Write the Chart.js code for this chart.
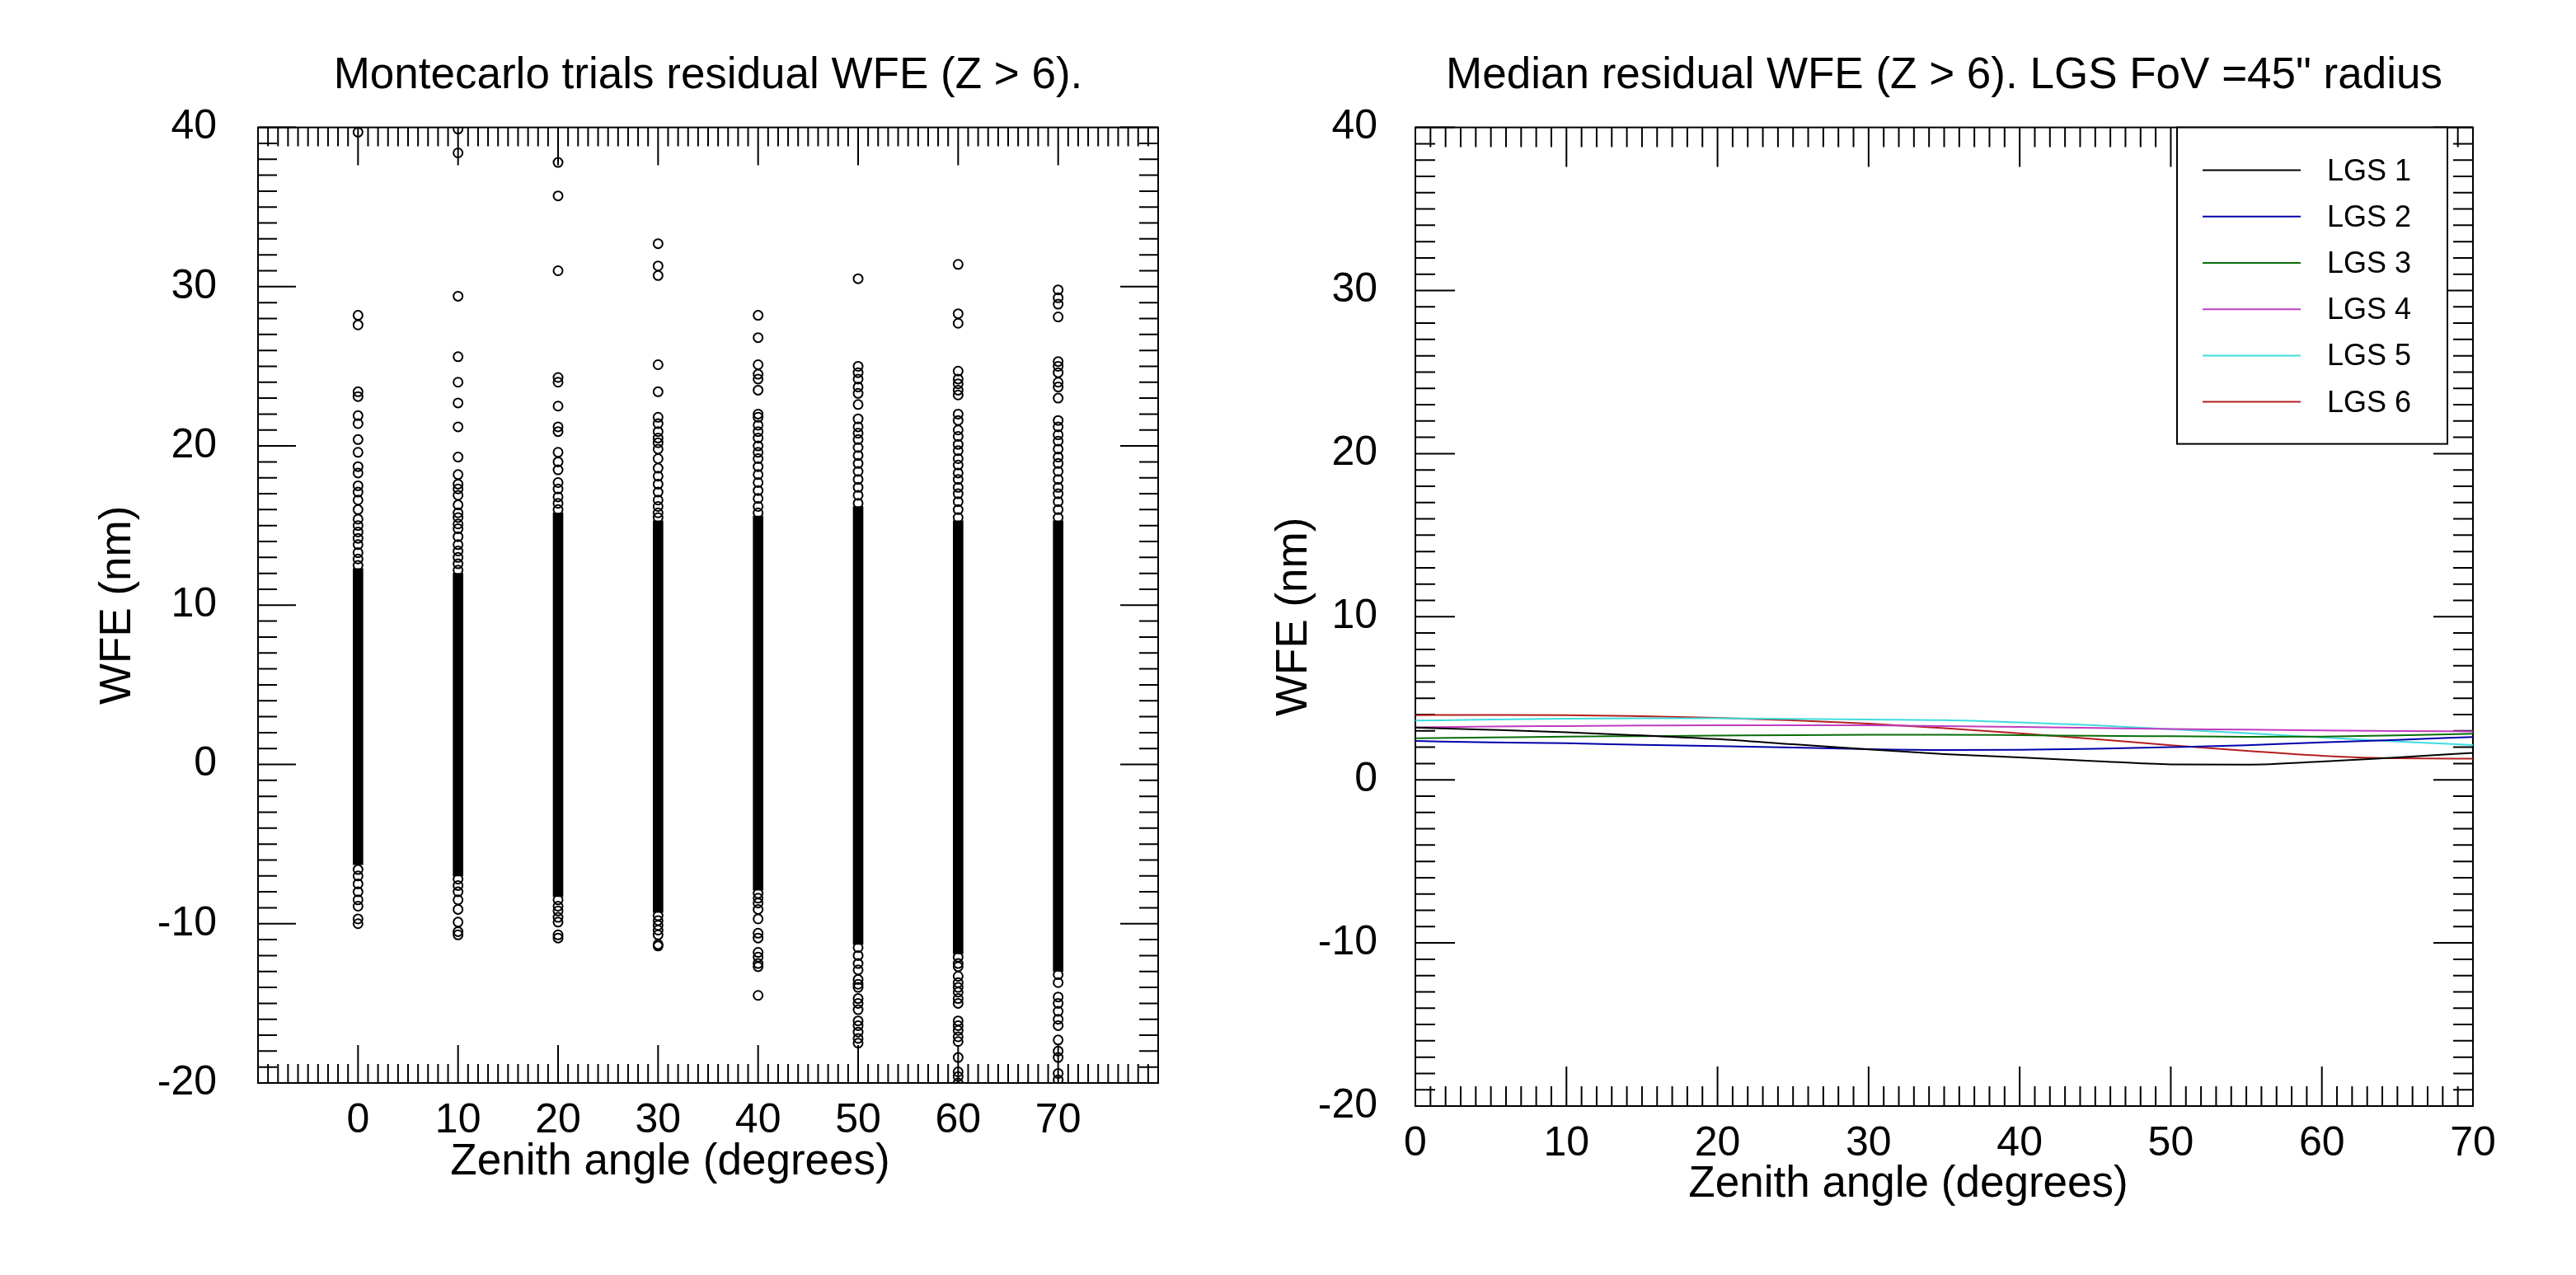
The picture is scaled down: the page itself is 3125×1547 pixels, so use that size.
<!DOCTYPE html>
<html>
<head>
<meta charset="utf-8">
<title>Residual WFE vs zenith angle</title>
<script src="https://cdn.jsdelivr.net/npm/chart.js@4.4.1/dist/chart.umd.min.js"></script>
<style>
  html, body { margin: 0; padding: 0; background: #fff; }
  #wrap { position: relative; width: 3125px; height: 1547px; overflow: hidden; }
  canvas { position: absolute; top: 0; }
  #montecarlo { left: 0; }
  #median { left: 1500px; }
</style>
</head>
<body>
<div id="wrap">
  <canvas id="montecarlo" width="1560" height="1547"></canvas>
  <canvas id="median" width="1625" height="1547"></canvas>
</div>
<script>
/* Left panel - Montecarlo trials */
const zenithAngles = [0, 10, 20, 30, 40, 50, 60, 70];
// solid part of each column (too many overlapping trials to tell apart)
const denseLow  = [-6.3, -7.0, -8.3, -9.3, -7.9, -11.3, -11.9, -13.0];
const denseHigh = [12.3, 12.0, 15.8, 15.3, 15.6, 16.2, 15.3, 15.3];
// single trials visible outside the solid part
const trials0  = [39.7, 28.2, 27.6, 23.4, 23.1, 21.9, 21.4, 20.4, 19.6, 18.7, 18.3, 17.5, 17.1, 16.6, 16.0, 15.4, 15.0, 14.6, 14.2, 13.8, 13.3, 12.9, 12.5,
                  -6.6, -7.0, -7.5, -8.0, -8.5, -8.9, -9.7, -10.0];
const trials10 = [39.9, 38.4, 29.4, 25.6, 24.0, 22.7, 21.2, 19.3, 18.2, 17.6, 17.3, 16.9, 16.3, 15.8, 15.5, 15.1, 14.8, 14.3, 13.8, 13.4, 13.0, 12.6, 12.2,
                  -7.2, -7.6, -8.0, -8.5, -9.1, -9.9, -10.5, -10.7];
const trials20 = [37.8, 35.7, 31.0, 24.3, 24.0, 22.5, 21.2, 20.9, 19.6, 19.0, 18.5, 17.7, 17.3, 16.8, 16.4, 16.0,
                  -8.5, -8.9, -9.2, -9.6, -9.9, -10.7, -10.9];
const trials30 = [32.7, 31.3, 30.7, 25.1, 23.4, 21.8, 21.4, 20.9, 20.5, 20.2, 19.8, 19.2, 18.6, 18.1, 17.6, 17.1, 16.6, 16.2, 15.8, 15.5,
                  -9.5, -9.8, -10.1, -10.4, -10.7, -11.3, -11.4];
const trials40 = [28.2, 26.8, 25.1, 24.5, 24.2, 23.5, 22.0, 21.8, 21.3, 20.9, 20.5, 20.0, 19.6, 19.2, 18.7, 18.2, 17.7, 17.2, 16.7, 16.2, 15.8,
                  -8.1, -8.4, -8.7, -9.1, -9.7, -10.6, -10.9, -11.8, -12.1, -12.5, -12.7, -14.5];
const trials50 = [30.5, 25.0, 24.6, 24.2, 23.7, 23.3, 22.6, 21.7, 21.2, 20.8, 20.4, 19.9, 19.4, 18.9, 18.4, 17.9, 17.4, 16.9, 16.4,
                  -11.5, -12.0, -12.5, -12.9, -13.5, -13.8, -14.0, -14.7, -15.0, -15.4, -16.1, -16.4, -16.8, -17.2, -17.5];
const trials60 = [31.4, 28.3, 27.7, 24.7, 24.2, 23.9, 23.5, 23.2, 22.0, 21.6, 21.0, 20.6, 20.1, 19.7, 19.2, 18.8, 18.3, 17.9, 17.4, 17.0, 16.5, 16.0, 15.5,
                  -12.1, -12.5, -12.7, -13.3, -13.7, -14.0, -14.3, -14.7, -15.0, -16.1, -16.4, -16.7, -17.1, -17.4, -18.4, -19.3, -19.6, -20.0];
const trials70 = [29.8, 29.3, 28.9, 28.1, 25.3, 25.0, 24.6, 24.0, 23.7, 23.0, 21.6, 21.2, 20.7, 20.3, 19.8, 19.3, 18.9, 18.4, 17.9, 17.4, 17.0, 16.5, 16.0, 15.5,
                  -13.2, -13.7, -14.6, -15.0, -15.5, -16.0, -16.4, -17.3, -18.0, -18.4, -19.4, -19.8];
const trialColumns = [trials0, trials10, trials20, trials30, trials40, trials50, trials60, trials70];

/* Right panel - median residual per LGS */
const medianAngles = [0, 5, 10, 15, 20, 25, 30, 35, 40, 45, 50, 55, 60, 65, 70];
const lgs1 = [3.20, 3.07, 2.92, 2.72, 2.50, 2.18, 1.87, 1.58, 1.37, 1.15, 0.95, 0.93, 1.12, 1.38, 1.65];
const lgs2 = [2.38, 2.30, 2.24, 2.15, 2.07, 1.98, 1.88, 1.83, 1.84, 1.90, 2.00, 2.12, 2.30, 2.45, 2.63];
const lgs3 = [2.55, 2.60, 2.65, 2.68, 2.71, 2.74, 2.76, 2.77, 2.74, 2.70, 2.67, 2.64, 2.65, 2.72, 2.83];
const lgs4 = [3.22, 3.27, 3.30, 3.33, 3.35, 3.35, 3.34, 3.30, 3.24, 3.18, 3.12, 3.08, 3.03, 2.99, 2.97];
const lgs5 = [3.63, 3.70, 3.75, 3.77, 3.77, 3.74, 3.70, 3.66, 3.52, 3.35, 3.10, 2.86, 2.60, 2.35, 2.13];
const lgs6 = [3.97, 3.98, 3.97, 3.90, 3.80, 3.65, 3.45, 3.17, 2.85, 2.50, 2.12, 1.78, 1.48, 1.32, 1.30];
const lgsLabels = ['LGS 1', 'LGS 2', 'LGS 3', 'LGS 4', 'LGS 5', 'LGS 6'];
const lgsColors = ['#000000', '#0000a8', '#0a6e0a', '#c03cc0', '#40dcdc', '#b41e1e'];

/* axis labels */
const angleTicks = [0, 10, 20, 30, 40, 50, 60, 70];
const wfeTicks = [-20, -10, 0, 10, 20, 30, 40];

const FONT = "'Liberation Sans', Arial, Helvetica, sans-serif";
Chart.defaults.font.family = FONT;
Chart.defaults.color = '#000';

// frame around the plot with inward ticks on all four sides
const frameTicks = {
    id: 'frameTicks',
    beforeDatasetsDraw(chart, args, opts) {
        const {ctx, chartArea: a, scales: {x, y}} = chart;
        ctx.save();
        ctx.strokeStyle = '#000';
        ctx.lineWidth = 2;
        ctx.beginPath();
        for (let v = Math.ceil(x.min); v <= x.max; v++) {
            const px = x.getPixelForValue(v);
            const len = v % opts.major === 0 ? opts.majorLen : opts.minorLen;
            ctx.moveTo(px, a.top); ctx.lineTo(px, a.top + len);
            ctx.moveTo(px, a.bottom); ctx.lineTo(px, a.bottom - len);
        }
        for (let v = Math.ceil(y.min); v <= y.max; v++) {
            const py = y.getPixelForValue(v);
            const len = v % opts.major === 0 ? opts.majorLen : opts.minorLen;
            ctx.moveTo(a.left, py); ctx.lineTo(a.left + len, py);
            ctx.moveTo(a.right, py); ctx.lineTo(a.right - len, py);
        }
        ctx.stroke();
        ctx.strokeRect(a.left, a.top, a.right - a.left, a.bottom - a.top);
        ctx.restore();
    }
};

// x axis title, sits a bit left of the plot centre like in the original
const axisCaption = {
    id: 'axisCaption',
    afterDraw(chart, args, opts) {
        const {ctx} = chart;
        ctx.save();
        ctx.font = `${opts.size}px ${FONT}`;
        ctx.fillStyle = '#000';
        ctx.textAlign = 'center';
        ctx.textBaseline = 'middle';
        ctx.fillText(opts.text, opts.cx, opts.cy);
        ctx.restore();
    }
};

// boxed legend in the upper right corner of the plot
const boxLegend = {
    id: 'boxLegend',
    afterDraw(chart, args, opts) {
        const {ctx, chartArea: a} = chart;
        const left = a.right - opts.inset - opts.width;
        const top = a.top;
        ctx.save();
        ctx.fillStyle = '#fff';
        ctx.fillRect(left, top, opts.width, opts.height);
        ctx.strokeStyle = '#000';
        ctx.lineWidth = 2;
        ctx.strokeRect(left, top, opts.width, opts.height);
        ctx.font = `${opts.size}px ${FONT}`;
        ctx.textBaseline = 'middle';
        ctx.textAlign = 'left';
        chart.data.datasets.forEach((ds, i) => {
            const ly = top + opts.firstRow + i * opts.rowStep;
            ctx.strokeStyle = ds.borderColor;
            ctx.beginPath();
            ctx.moveTo(left + opts.lineStart, ly);
            ctx.lineTo(left + opts.lineStart + opts.lineLen, ly);
            ctx.stroke();
            ctx.fillStyle = '#000';
            ctx.fillText(ds.label, left + opts.textStart, ly + 2);
        });
        ctx.restore();
    }
};

const tickFont = {family: FONT, size: 50};
const titleFont = {family: FONT, size: 53, weight: 'normal'};

function fixedTicks(values) {
    return (scale) => { scale.ticks = values.map(v => ({value: v})); };
}

/* Chart 1 */
const trialPoints = [];
zenithAngles.forEach((angle, i) => {
    trialColumns[i].forEach(v => trialPoints.push({x: angle, y: v}));
});

new Chart(document.getElementById('montecarlo'), {
    type: 'scatter',
    data: {
        datasets: [{
            type: 'bar',
            data: zenithAngles.map((angle, i) => ({x: angle, y: [denseLow[i], denseHigh[i]]})),
            backgroundColor: '#000',
            borderWidth: 0,
            barThickness: 12,
            clip: 0
        }, {
            data: trialPoints,
            pointStyle: 'circle',
            pointRadius: 5.5,
            borderWidth: 2,
            borderColor: '#000',
            backgroundColor: 'rgba(0,0,0,0)',
            clip: 0
        }]
    },
    options: {
        responsive: false,
        animation: false,
        events: [],
        layout: {padding: {left: 0, right: 155, top: 0, bottom: 0}},
        plugins: {
            legend: {display: false},
            tooltip: {enabled: false},
            title: {
                display: true,
                text: 'Montecarlo trials residual WFE (Z > 6).',
                font: titleFont,
                color: '#000',
                fullSize: false,
                padding: {top: 61, bottom: 30}
            },
            frameTicks: {major: 10, minorLen: 23, majorLen: 46},
            axisCaption: {text: 'Zenith angle (degrees)', size: 53, cx: 813, cy: 1410}
        },
        scales: {
            x: {
                type: 'linear',
                min: -10,
                max: 80,
                offset: false,
                grid: {display: false, offset: false},
                border: {display: false},
                afterBuildTicks: fixedTicks(angleTicks),
                afterFit: (scale) => { scale.height = 233; },
                ticks: {font: tickFont, color: '#000', padding: 8, maxRotation: 0, autoSkip: false}
            },
            y: {
                type: 'linear',
                min: -20,
                max: 40,
                grid: {display: false},
                border: {display: false},
                afterBuildTicks: fixedTicks(wfeTicks),
                afterFit: (scale) => { scale.width = 313; },
                ticks: {font: tickFont, color: '#000', padding: 42},
                title: {display: true, text: 'WFE (nm)', font: titleFont, color: '#000', padding: {top: 112, bottom: 0}}
            }
        }
    },
    plugins: [frameTicks, axisCaption]
});

/* Chart 2 */
const lgsSeries = [lgs1, lgs2, lgs3, lgs4, lgs5, lgs6];

new Chart(document.getElementById('median'), {
    type: 'line',
    data: {
        labels: medianAngles,
        datasets: lgsSeries.map((series, i) => ({
            label: lgsLabels[i],
            data: series.map((v, j) => ({x: medianAngles[j], y: v})),
            borderColor: lgsColors[i],
            borderWidth: 2,
            pointRadius: 0,
            fill: false,
            cubicInterpolationMode: 'monotone',
            clip: 0
        }))
    },
    options: {
        responsive: false,
        animation: false,
        events: [],
        layout: {padding: {left: 0, right: 125, top: 0, bottom: 0}},
        plugins: {
            legend: {display: false},
            tooltip: {enabled: false},
            title: {
                display: true,
                text: 'Median residual WFE (Z > 6). LGS FoV =45" radius',
                font: titleFont,
                color: '#000',
                fullSize: false,
                padding: {top: 61, bottom: 30}
            },
            frameTicks: {major: 10, minorLen: 24, majorLen: 48},
            axisCaption: {text: 'Zenith angle (degrees)', size: 53, cx: 815, cy: 1437},
            boxLegend: {
                inset: 31, width: 328, height: 384,
                lineStart: 31, lineLen: 119, textStart: 182,
                firstRow: 52, rowStep: 56.2, size: 36
            }
        },
        scales: {
            x: {
                type: 'linear',
                min: 0,
                max: 70,
                grid: {display: false},
                border: {display: false},
                afterBuildTicks: fixedTicks(angleTicks),
                afterFit: (scale) => { scale.height = 205; },
                ticks: {font: tickFont, color: '#000', padding: 8, maxRotation: 0, autoSkip: false}
            },
            y: {
                type: 'linear',
                min: -20,
                max: 40,
                grid: {display: false},
                border: {display: false},
                afterBuildTicks: fixedTicks(wfeTicks),
                afterFit: (scale) => { scale.width = 217; },
                ticks: {font: tickFont, color: '#000', padding: 38},
                title: {display: true, text: 'WFE (nm)', font: titleFont, color: '#000', padding: {top: 39, bottom: 0}}
            }
        }
    },
    plugins: [frameTicks, axisCaption, boxLegend]
});
</script>
</body>
</html>
